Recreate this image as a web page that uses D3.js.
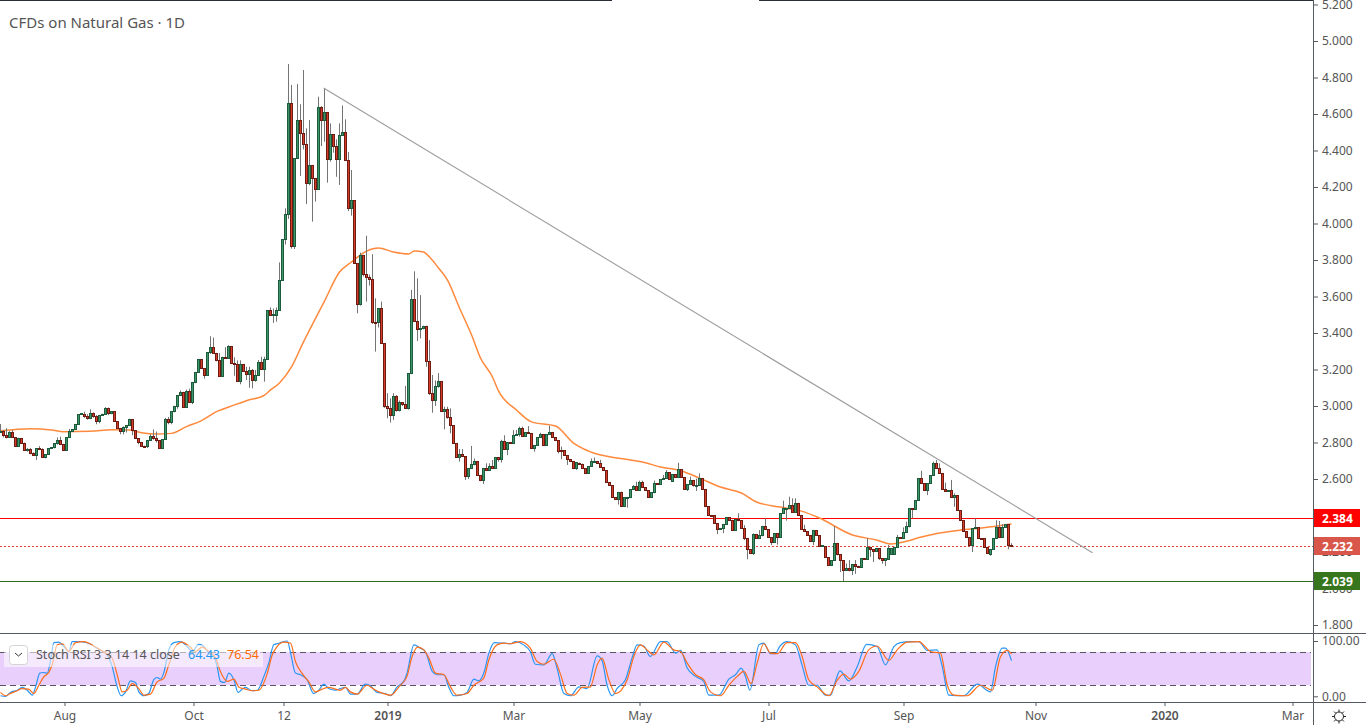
<!DOCTYPE html>
<html>
<head>
<meta charset="utf-8">
<script src="https://cdn.jsdelivr.net/npm/d3@7"></script>
<style>
  html, body { margin: 0; padding: 0; background: #fff; overflow: hidden; }
  text { font-family: "Noto Sans", sans-serif; }
</style>
</head>
<body>
<div id="chart"></div>
<script>
// daily candles (10 per row)
const opens = [
  2.856,2.859,2.838,2.828,2.856,2.828,2.779,2.821,2.795,2.757,
  2.763,2.741,2.730,2.768,2.763,2.719,2.735,2.768,2.774,2.794,
  2.812,2.790,2.757,2.828,2.861,2.872,2.900,2.954,2.954,2.945,
  2.932,2.960,2.945,2.916,2.949,2.954,2.987,2.960,2.969,2.916,
  2.878,2.859,2.883,2.894,2.927,2.865,2.821,2.801,2.779,2.779,
  2.812,2.834,2.823,2.812,2.766,2.817,2.927,2.909,2.971,2.998,
  3.058,3.075,2.993,3.080,3.020,3.130,3.185,3.256,3.207,3.168,
  3.294,3.322,3.289,3.250,3.161,3.267,3.261,3.327,3.234,3.230,
  3.135,3.228,3.190,3.172,3.196,3.141,3.168,3.239,3.201,3.256,
  3.521,3.497,3.497,3.524,3.689,3.913,4.047,4.655,3.873,4.357,
  4.565,4.494,4.434,4.220,4.319,4.248,4.187,4.636,4.565,4.609,
  4.352,4.488,4.423,4.352,4.483,4.500,4.346,4.083,4.127,3.782,
  3.557,3.826,3.721,3.705,3.694,3.459,3.459,3.535,3.343,2.996,
  2.985,2.947,3.053,2.974,3.020,3.009,2.987,3.179,3.584,3.464,
  3.420,3.426,3.436,3.245,3.070,3.029,3.108,3.135,2.971,2.982,
  2.938,2.894,2.795,2.717,2.735,2.724,2.613,2.658,2.680,2.697,
  2.618,2.590,2.658,2.647,2.670,2.658,2.719,2.708,2.806,2.762,
  2.801,2.795,2.839,2.845,2.878,2.834,2.856,2.850,2.768,2.784,
  2.828,2.845,2.784,2.845,2.856,2.828,2.812,2.757,2.757,2.730,
  2.708,2.697,2.658,2.686,2.680,2.658,2.631,2.669,2.691,2.697,
  2.686,2.664,2.647,2.582,2.565,2.498,2.489,2.527,2.448,2.498,
  2.498,2.543,2.560,2.538,2.582,2.554,2.536,2.498,2.527,2.576,
  2.571,2.598,2.604,2.636,2.587,2.625,2.609,2.653,2.609,2.543,
  2.571,2.593,2.565,2.565,2.604,2.543,2.448,2.401,2.400,2.357,
  2.324,2.330,2.352,2.390,2.375,2.319,2.379,2.370,2.328,2.275,
  2.211,2.191,2.297,2.275,2.288,2.341,2.324,2.280,2.251,2.302,
  2.280,2.412,2.434,2.439,2.456,2.417,2.467,2.401,2.324,2.313,
  2.291,2.258,2.319,2.291,2.231,2.231,2.169,2.125,2.153,2.248,
  2.184,2.153,2.101,2.110,2.096,2.131,2.123,2.116,2.165,2.160,
  2.227,2.211,2.205,2.220,2.165,2.154,2.160,2.187,2.187,2.226,
  2.279,2.273,2.308,2.341,2.439,2.434,2.483,2.604,2.576,2.538,
  2.576,2.620,2.686,2.658,2.631,2.543,2.532,2.538,2.500,2.510,
  2.428,2.374,2.313,2.280,2.237,2.329,2.335,2.275,2.273,2.226,
  2.187,2.215,2.275,2.335,2.280,2.335,2.352,2.237
];
const closes = [
  2.859,2.838,2.828,2.856,2.828,2.779,2.821,2.795,2.757,2.763,
  2.741,2.730,2.768,2.763,2.719,2.735,2.768,2.774,2.794,2.812,
  2.790,2.757,2.828,2.861,2.872,2.900,2.954,2.958,2.945,2.932,
  2.960,2.945,2.916,2.949,2.954,2.987,2.960,2.969,2.916,2.878,
  2.859,2.883,2.894,2.927,2.865,2.821,2.801,2.779,2.777,2.812,
  2.834,2.823,2.812,2.766,2.817,2.927,2.909,2.971,2.998,3.058,
  3.075,2.993,3.080,3.020,3.130,3.185,3.256,3.207,3.168,3.294,
  3.322,3.289,3.250,3.161,3.267,3.261,3.327,3.234,3.230,3.135,
  3.228,3.190,3.172,3.196,3.141,3.168,3.239,3.201,3.256,3.521,
  3.497,3.500,3.524,3.689,3.913,4.047,4.655,3.873,4.357,4.565,
  4.494,4.434,4.220,4.319,4.248,4.187,4.636,4.565,4.609,4.352,
  4.488,4.423,4.352,4.483,4.500,4.346,4.083,4.127,3.782,3.557,
  3.826,3.721,3.705,3.694,3.459,3.457,3.535,3.343,2.996,2.985,
  2.947,3.053,2.974,3.020,3.009,2.987,3.179,3.584,3.464,3.420,
  3.426,3.436,3.245,3.070,3.029,3.108,3.135,2.971,2.982,2.938,
  2.894,2.795,2.717,2.735,2.724,2.613,2.658,2.680,2.697,2.618,
  2.590,2.658,2.647,2.670,2.658,2.719,2.708,2.806,2.762,2.801,
  2.795,2.839,2.845,2.878,2.834,2.856,2.850,2.768,2.784,2.828,
  2.845,2.784,2.845,2.856,2.828,2.812,2.752,2.752,2.730,2.708,
  2.697,2.658,2.691,2.680,2.658,2.631,2.669,2.697,2.697,2.686,
  2.664,2.647,2.582,2.565,2.498,2.489,2.527,2.448,2.498,2.500,
  2.543,2.560,2.538,2.582,2.554,2.536,2.498,2.527,2.576,2.571,
  2.598,2.604,2.636,2.598,2.625,2.609,2.653,2.609,2.543,2.571,
  2.593,2.565,2.567,2.604,2.543,2.448,2.401,2.400,2.357,2.324,
  2.330,2.352,2.390,2.375,2.319,2.379,2.370,2.328,2.275,2.211,
  2.191,2.297,2.275,2.288,2.341,2.324,2.280,2.251,2.302,2.280,
  2.412,2.439,2.439,2.456,2.417,2.467,2.401,2.324,2.313,2.291,
  2.258,2.319,2.291,2.231,2.235,2.169,2.125,2.153,2.248,2.184,
  2.153,2.101,2.110,2.096,2.131,2.123,2.116,2.165,2.160,2.227,
  2.211,2.205,2.220,2.165,2.154,2.165,2.220,2.220,2.226,2.279,
  2.273,2.308,2.341,2.439,2.434,2.483,2.604,2.576,2.538,2.576,
  2.620,2.686,2.658,2.631,2.543,2.532,2.538,2.500,2.510,2.428,
  2.374,2.313,2.280,2.237,2.329,2.335,2.275,2.273,2.226,2.193,
  2.215,2.275,2.335,2.280,2.335,2.352,2.237,2.232
];
const highs = [
  2.901,2.868,2.878,2.862,2.868,2.830,2.826,2.823,2.800,2.770,
  2.770,2.746,2.768,2.780,2.768,2.737,2.770,2.775,2.795,2.828,
  2.832,2.793,2.830,2.875,2.874,2.902,2.956,2.960,2.968,2.955,
  2.982,2.965,2.950,2.951,2.958,2.994,2.992,2.972,2.971,2.918,
  2.880,2.888,2.896,2.930,2.929,2.867,2.823,2.803,2.783,2.814,
  2.845,2.872,2.860,2.814,2.818,2.935,2.940,2.973,3.001,3.060,
  3.085,3.078,3.090,3.095,3.132,3.187,3.258,3.258,3.209,3.296,
  3.382,3.375,3.291,3.290,3.270,3.322,3.333,3.329,3.267,3.250,
  3.250,3.230,3.215,3.215,3.203,3.197,3.252,3.270,3.270,3.523,
  3.540,3.534,3.540,3.787,3.915,4.083,4.874,4.759,4.359,4.764,
  4.653,4.841,4.521,4.567,4.321,4.250,4.695,4.643,4.740,4.611,
  4.549,4.490,4.461,4.549,4.647,4.571,4.392,4.293,4.129,3.784,
  3.840,3.828,3.933,3.720,3.832,3.590,3.537,3.572,3.345,3.070,
  3.042,3.070,3.060,3.030,3.022,3.110,3.181,3.636,3.738,3.700,
  3.608,3.440,3.440,3.361,3.170,3.140,3.180,3.137,2.996,2.996,
  2.987,2.896,2.797,2.764,2.764,2.726,2.660,2.781,2.712,2.699,
  2.620,2.660,2.686,2.686,2.704,2.721,2.721,2.815,2.840,2.803,
  2.803,2.868,2.868,2.887,2.887,2.858,2.890,2.852,2.786,2.830,
  2.853,2.847,2.847,2.892,2.858,2.830,2.814,2.778,2.759,2.732,
  2.710,2.699,2.693,2.690,2.684,2.660,2.671,2.713,2.718,2.699,
  2.705,2.666,2.649,2.584,2.567,2.500,2.529,2.531,2.500,2.502,
  2.545,2.567,2.585,2.591,2.591,2.556,2.538,2.529,2.591,2.578,
  2.600,2.622,2.649,2.638,2.627,2.627,2.689,2.655,2.611,2.573,
  2.613,2.595,2.602,2.631,2.606,2.545,2.450,2.403,2.402,2.359,
  2.332,2.354,2.392,2.392,2.377,2.381,2.412,2.372,2.347,2.277,
  2.213,2.302,2.299,2.320,2.343,2.384,2.326,2.282,2.304,2.304,
  2.414,2.481,2.441,2.503,2.494,2.494,2.469,2.403,2.349,2.315,
  2.293,2.321,2.321,2.293,2.237,2.233,2.171,2.155,2.342,2.250,
  2.186,2.155,2.137,2.156,2.133,2.156,2.125,2.167,2.167,2.275,
  2.229,2.213,2.222,2.222,2.167,2.167,2.238,2.222,2.228,2.294,
  2.281,2.335,2.366,2.441,2.441,2.485,2.606,2.645,2.578,2.578,
  2.622,2.695,2.704,2.686,2.633,2.580,2.540,2.595,2.521,2.512,
  2.430,2.376,2.315,2.282,2.331,2.384,2.337,2.277,2.275,2.228,
  2.217,2.277,2.374,2.370,2.352,2.354,2.354,2.248
];
const lows = [
  2.852,2.828,2.823,2.825,2.826,2.777,2.777,2.793,2.755,2.750,
  2.735,2.726,2.704,2.762,2.715,2.713,2.733,2.767,2.768,2.788,
  2.788,2.755,2.755,2.826,2.860,2.870,2.898,2.952,2.935,2.925,
  2.928,2.935,2.900,2.905,2.948,2.952,2.950,2.955,2.914,2.876,
  2.845,2.845,2.855,2.890,2.840,2.819,2.790,2.777,2.775,2.770,
  2.810,2.815,2.800,2.764,2.764,2.815,2.900,2.900,2.965,2.985,
  3.055,2.990,2.990,3.018,3.010,3.125,3.183,3.205,3.150,3.166,
  3.285,3.285,3.245,3.159,3.159,3.259,3.259,3.232,3.166,3.133,
  3.119,3.188,3.142,3.100,3.097,3.133,3.166,3.199,3.133,3.254,
  3.495,3.455,3.462,3.522,3.687,3.885,4.025,3.862,3.860,4.355,
  4.260,4.406,4.107,4.210,4.010,4.120,4.185,4.424,4.448,4.224,
  4.339,4.388,4.256,4.211,4.480,4.344,4.068,4.043,3.780,3.508,
  3.550,3.710,3.572,3.660,3.450,3.298,3.430,3.340,2.990,2.933,
  2.909,2.923,2.970,2.970,3.000,2.985,2.980,3.175,3.460,3.356,
  3.370,3.420,3.215,3.060,2.963,3.000,3.100,2.969,2.872,2.930,
  2.850,2.793,2.715,2.695,2.722,2.595,2.600,2.655,2.675,2.616,
  2.588,2.573,2.645,2.645,2.655,2.656,2.695,2.690,2.760,2.731,
  2.793,2.793,2.837,2.832,2.832,2.832,2.848,2.766,2.750,2.782,
  2.826,2.782,2.782,2.843,2.826,2.810,2.740,2.708,2.728,2.677,
  2.695,2.656,2.650,2.678,2.656,2.629,2.629,2.667,2.689,2.684,
  2.662,2.645,2.580,2.563,2.496,2.487,2.460,2.446,2.446,2.443,
  2.496,2.541,2.536,2.536,2.552,2.534,2.496,2.496,2.522,2.569,
  2.569,2.596,2.602,2.596,2.585,2.607,2.607,2.607,2.541,2.534,
  2.569,2.558,2.534,2.563,2.541,2.446,2.399,2.398,2.355,2.298,
  2.322,2.303,2.350,2.373,2.317,2.317,2.368,2.326,2.265,2.160,
  2.189,2.184,2.273,2.273,2.286,2.322,2.278,2.238,2.249,2.240,
  2.278,2.410,2.372,2.437,2.415,2.415,2.399,2.322,2.311,2.289,
  2.256,2.238,2.289,2.229,2.229,2.167,2.123,2.123,2.151,2.182,
  2.090,2.041,2.099,2.094,2.074,2.080,2.114,2.114,2.158,2.158,
  2.174,2.145,2.203,2.156,2.136,2.123,2.158,2.185,2.185,2.224,
  2.271,2.271,2.306,2.335,2.384,2.432,2.481,2.574,2.536,2.512,
  2.574,2.618,2.656,2.629,2.541,2.530,2.530,2.498,2.448,2.426,
  2.372,2.311,2.278,2.230,2.200,2.327,2.273,2.271,2.224,2.191,
  2.180,2.213,2.273,2.278,2.278,2.333,2.215,2.230
];

// moving average, picked up at its bends
const maBars = [0,10,17,21,30,37,43,47,52,57,62,67,72,78,82,88,90,93,97,101,108,113,117,122,126,131,136,138,141,143,146,149,153,157,160,164,166,172,177,185,191,196,208,214,220,227,233,240,247,252,260,267,273,284,292,297,301,307,313,320,327,337];
const maValues = [2.865,2.876,2.869,2.859,2.861,2.870,2.868,2.854,2.847,2.850,2.887,2.920,2.969,3.006,3.029,3.060,3.088,3.126,3.214,3.351,3.575,3.734,3.789,3.849,3.866,3.844,3.833,3.849,3.844,3.816,3.756,3.690,3.537,3.390,3.263,3.159,3.083,2.978,2.913,2.890,2.797,2.753,2.709,2.693,2.666,2.644,2.605,2.556,2.523,2.474,2.446,2.424,2.386,2.293,2.266,2.244,2.255,2.282,2.304,2.320,2.331,2.353];

// Stoch RSI, both lines picked up at their turns
const kBars = [0,1.7,3.3,5.6,7.2,8.9,10.6,11.7,13.1,14.2,15.6,16.7,17.8,19.4,21.1,22.8,23.9,26.7,29.4,32.2,35.6,37.2,38.9,40.2,41.7,43.3,45,46.1,47.8,49.4,51.1,52.2,53.3,54.4,56.1,57.8,60,62.2,63.9,66.1,67.8,69.4,71.1,72.2,73.3,74.7,76.1,77.8,79.2,80.6,81.7,83.9,85.6,87.8,89.4,91.1,92.8,95.6,96.7,98.3,100,102.2,104.4,106.1,107.8,109.4,111.7,113.3,115,116.7,118.9,121.6,123.3,125.5,128.3,130,132.2,134.4,135.5,137.8,140,141.6,143.9,145.5,147.8,149.4,151.1,153.3,155.5,157.8,159.4,161.1,162.8,164.6,167.8,170,171.6,174.4,176.6,178.3,181.1,183.9,185.5,187.8,190,192.8,195.5,198.9,200.5,202.2,203.9,205.5,208.3,210.5,212.2,214.4,216.6,220,222.2,225,226.7,228.9,231.7,234.4,236.1,239.4,242.8,245,246.9,248.3,249.8,252.8,254.4,256.7,258.3,259.7,262.2,265,267.2,269.4,272.2,275,276.7,278.3,279.8,282.8,285.6,288.7,292.2,295,297.8,300,303.3,306.1,308.9,312.2,313.9,316.1,321.1,325.6,330,331.7,333.9,335,337];
const kValues = [1,0,7,11,16,11,2,17,42,43,42,66,97,98,90,81,99,99,96,87,75,54,17,1,8,28,25,8,1,5,30,34,31,42,84,97,99,90,81,94,90,78,72,54,27,25,42,30,7,13,16,10,11,36,60,93,96,100,78,42,39,30,5,11,22,14,11,14,16,4,4,22,19,7,5,1,17,27,42,93,87,81,45,39,39,17,1,2,7,31,28,42,78,97,96,95,99,93,81,58,57,77,51,5,1,17,14,73,65,20,1,14,30,69,93,91,72,99,99,78,83,51,36,27,2,2,31,39,51,36,11,93,96,77,77,90,99,93,56,20,20,2,2,27,46,28,54,94,90,57,90,97,99,99,83,84,54,2,1,22,8,54,87,87,64.43];
const dBars = [0,1.7,3.3,5.6,7.2,9.4,11.1,12.8,14.4,16.1,17.2,18.9,20.6,22.8,25,27.8,31.1,34.4,37.2,38.9,40.6,42.2,43.9,46.1,47.8,50,52.2,54.4,56.1,58.3,60.6,62.8,65,67.2,69.4,71.7,73.3,75.6,77.8,79.4,81.7,83.9,86.1,88.9,90.6,92.2,94.4,96.7,98.3,100.6,102.8,105,107.2,109.4,111.7,113.3,115,116.7,118.9,122.2,124.4,126.6,130,132.8,135.5,137.2,139.1,141.1,142.8,145,147.8,150,152.2,155.5,157.8,161.1,162.8,165.5,167.8,170,173.3,176.6,178.9,181.1,184.4,186.6,188.9,191.1,193.9,196.6,198.9,200.5,202.8,205,208.9,211.1,213.3,216.1,217.8,221.1,224.4,226.7,228.9,231.7,234.4,236.7,240,242.8,245.6,247.8,250.2,252.2,254.4,256.7,258.9,262.2,265,267.2,269.4,272.2,276.1,278.9,281.1,283.3,286.1,289.4,292.2,296.1,298.9,302.2,306.1,310,313.3,315.6,317.8,322.2,326.7,330.6,333.3,335.6,337];
const dValues = [7,1,5,10,14,13,5,20,35,43,57,93,95,81,97,99,91,80,69,39,8,11,23,14,2,4,26,32,57,90,98,91,81,89,81,69,45,27,31,17,13,10,11,41,75,90,98,96,63,41,26,8,13,16,13,11,16,8,4,20,13,7,2,17,36,72,89,84,69,42,39,17,2,5,20,33,66,93,96,95,99,87,63,58,67,41,5,2,16,17,57,69,30,5,30,72,93,81,75,98,84,81,60,39,30,8,1,20,36,45,23,60,95,78,77,97,97,72,30,17,1,29,40,31,45,84,91,65,84,98,99,81,78,20,2,1,20,11,71,83,76.54];

// trend line and levels
const trendBars = [107.7, 364];
const trendPrices = [4.742, 2.196];
const levels = [2.384, 2.232, 2.039];
const levelColors = ["#ff0000", "#d9574a", "#38761d"];
const lineColors = ["#ff0000", "#e0402f", "#336b22"];

// axis labels
const priceTicks = [5.2,5,4.8,4.6,4.4,4.2,4,3.8,3.6,3.4,3.2,3,2.8,2.6,2.4,2.2,2,1.8];
const stochTicks = [100, 0];
const dateTickBars = [21.33,64.33,94.33,129,171,213,256,301,345,388,430.67];
const dateTickLabels = ["Aug","Oct","12","2019","Mar","May","Jul","Sep","Nov","2020","Mar"];

const width = 1366, height = 725;
const plotRight = 1313;
const textGrey = "#555555", axisGrey = "#555a60";

const x = d3.scaleLinear().domain([0, 437]).range([0.5, 1311.5]);
const y = d3.scaleLinear().domain([5.2, 1.8]).range([4.5, 625]);
const ys = d3.scaleLinear().domain([100, 0]).range([641, 696.3]);
const snap = v => Math.round(v - 0.5) + 0.5;

const svg = d3.select("#chart").append("svg")
  .attr("width", width)
  .attr("height", height)
  .style("display", "block");

// top border, it has a gap in the reference
svg.selectAll("line.top").data([[0, 612], [759, plotRight]]).enter().append("line")
  .attr("class", "top")
  .attr("x1", d => d[0]).attr("x2", d => d[1])
  .attr("y1", 0.5).attr("y2", 0.5)
  .attr("stroke", "#2a2e39");

// price levels
svg.selectAll("line.level").data(levels).enter().append("line")
  .attr("class", "level")
  .attr("x1", 0).attr("x2", plotRight)
  .attr("y1", d => snap(y(d))).attr("y2", d => snap(y(d)))
  .attr("stroke", (d, i) => lineColors[i])
  .attr("stroke-dasharray", (d, i) => i === 1 ? "2,2" : null);

// moving average
const maLine = d3.line().x((d, i) => x(maBars[i])).y(d => y(d)).curve(d3.curveMonotoneX);
svg.append("path")
  .attr("d", maLine(maValues))
  .attr("fill", "none")
  .attr("stroke", "#ff8a3d")
  .attr("stroke-width", 1.5);

// candles
const candles = d3.range(opens.length).map(i => ({ i: i, o: opens[i], h: highs[i], l: lows[i], c: closes[i] }));
const candleG = svg.append("g");
candleG.selectAll("line").data(candles).enter().append("line")
  .attr("x1", d => x(d.i)).attr("x2", d => x(d.i))
  .attr("y1", d => y(d.h)).attr("y2", d => y(d.l))
  .attr("stroke", "#747474");
candleG.selectAll("rect").data(candles).enter().append("rect")
  .attr("x", d => x(d.i) - 1)
  .attr("width", 2)
  .attr("y", d => snap(y(Math.max(d.o, d.c))))
  .attr("height", d => Math.max(1, snap(y(Math.min(d.o, d.c))) - snap(y(Math.max(d.o, d.c)))))
  .attr("fill", d => d.c >= d.o ? "#3f9468" : "#d63c2a")
  .attr("stroke", d => d.c >= d.o ? "#1c5c3c" : "#6e1c12");

// trend line
const trendLine = d3.line().x((d, i) => x(trendBars[i])).y(d => y(d));
svg.append("path")
  .attr("d", trendLine(trendPrices))
  .attr("fill", "none")
  .attr("stroke", "#9c9c9c")
  .attr("stroke-width", 1.1);

// title
svg.append("text")
  .attr("x", 9).attr("y", 27.5)
  .attr("font-size", 15)
  .attr("fill", textGrey)
  .text("CFDs on Natural Gas \u00b7 1D");

// stoch panel
svg.append("rect")
  .attr("x", 0).attr("width", 1311)
  .attr("y", ys(80)).attr("height", ys(20) - ys(80))
  .attr("fill", "#e9cffc");
svg.selectAll("line.band").data([80, 20]).enter().append("line")
  .attr("class", "band")
  .attr("x1", 0).attr("x2", 1311)
  .attr("y1", d => snap(ys(d))).attr("y2", d => snap(ys(d)))
  .attr("stroke", "#5a5560")
  .attr("stroke-dasharray", "6,4");

const kLine = d3.line().x((d, i) => x(kBars[i])).y(d => ys(d)).curve(d3.curveMonotoneX);
const dLine = d3.line().x((d, i) => x(dBars[i])).y(d => ys(d)).curve(d3.curveMonotoneX);
svg.append("path").attr("d", kLine(kValues))
  .attr("fill", "none").attr("stroke", "#2a96f3").attr("stroke-width", 1.2);
svg.append("path").attr("d", dLine(dValues))
  .attr("fill", "none").attr("stroke", "#ff6d1a").attr("stroke-width", 1.2);

// legend of the stoch panel sits over the lines
svg.append("rect")
  .attr("x", 4).attr("y", 645).attr("width", 259).attr("height", 22)
  .attr("fill", "#ffffff").attr("opacity", 0.55);
svg.append("rect")
  .attr("x", 9.5).attr("y", 645.5).attr("width", 18).attr("height", 19).attr("rx", 3)
  .attr("fill", "#ffffff").attr("stroke", "#d4d4d4");
svg.append("path")
  .attr("d", "M15 653l3.5 3l3.5-3")
  .attr("fill", "none").attr("stroke", "#333");
const legend = svg.append("text").attr("y", 659).attr("font-size", 12.5);
legend.append("tspan").attr("x", 36).attr("fill", textGrey).text("Stoch RSI 3 3 14 14 close");
legend.append("tspan").attr("x", 188).attr("fill", "#2196f3").text(kValues[kValues.length - 1].toFixed(2));
legend.append("tspan").attr("x", 227).attr("fill", "#ff6d00").text(dValues[dValues.length - 1].toFixed(2));

// panel separators
svg.selectAll("line.sep").data([633.5, 702.5]).enter().append("line")
  .attr("class", "sep")
  .attr("x1", 0).attr("x2", width)
  .attr("y1", d => d).attr("y2", d => d)
  .attr("stroke", axisGrey);

// axes
const styleAxis = g => {
  g.select(".domain").remove();
  g.selectAll("line").attr("stroke", axisGrey);
  g.selectAll("text").attr("fill", textGrey).style("font-family", '"Noto Sans", sans-serif');
};
svg.append("g")
  .attr("transform", `translate(${plotRight},0)`)
  .call(d3.axisRight(y).tickValues(priceTicks).tickFormat(d3.format(".3f")).tickSize(5).tickPadding(4))
  .attr("font-size", 12)
  .call(styleAxis);
svg.append("g")
  .attr("transform", `translate(${plotRight},0)`)
  .call(d3.axisRight(ys).tickValues(stochTicks).tickFormat(d3.format(".2f")).tickSize(5).tickPadding(4))
  .attr("font-size", 12)
  .call(styleAxis);
svg.append("g")
  .attr("transform", "translate(0,702)")
  .call(d3.axisBottom(x).tickValues(dateTickBars).tickFormat((d, i) => dateTickLabels[i]).tickSize(4).tickPadding(5))
  .attr("font-size", 12)
  .call(styleAxis)
  .selectAll("text")
  .attr("font-weight", (d, i) => /^20/.test(dateTickLabels[i]) ? 600 : null);

svg.append("line")
  .attr("x1", plotRight + 0.5).attr("x2", plotRight + 0.5)
  .attr("y1", 0).attr("y2", height)
  .attr("stroke", axisGrey);

// level tags on the price axis
const tags = svg.selectAll("g.tag").data(levels).enter().append("g")
  .attr("class", "tag")
  .attr("transform", d => `translate(${plotRight + 1},${Math.round(y(d))})`);
tags.append("rect")
  .attr("x", 0).attr("y", -9).attr("width", 46).attr("height", 18)
  .attr("fill", (d, i) => levelColors[i]);
tags.append("text")
  .attr("x", 8).attr("y", 4.5)
  .attr("font-size", 12).attr("font-weight", 700)
  .attr("fill", "#fff")
  .text(d => d.toFixed(3));

// settings icon at the corner
const gear = svg.append("g").attr("transform", "translate(1339,716.5)")
  .attr("fill", "none").attr("stroke", "#222");
gear.append("circle").attr("r", 4.5);
gear.selectAll("line").data(d3.range(8)).enter().append("line")
  .attr("x1", d => 4.5 * Math.cos(d * Math.PI / 4))
  .attr("y1", d => 4.5 * Math.sin(d * Math.PI / 4))
  .attr("x2", d => 7 * Math.cos(d * Math.PI / 4))
  .attr("y2", d => 7 * Math.sin(d * Math.PI / 4));
</script>
</body>
</html>
